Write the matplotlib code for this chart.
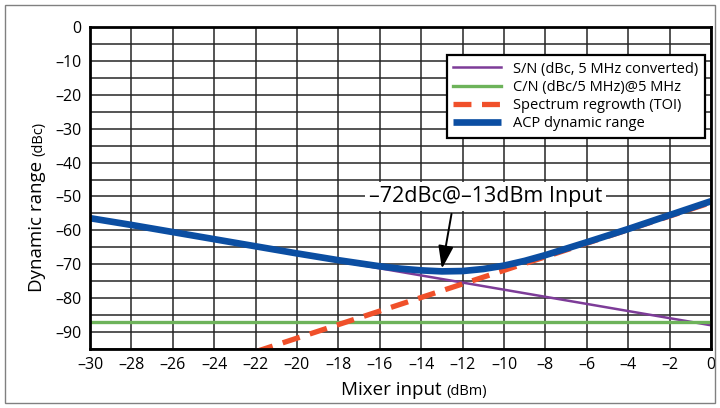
import matplotlib
matplotlib.use("Agg")
import matplotlib.pyplot as plt
from matplotlib.patches import Rectangle

plt.rcParams['font.family'] = ['Open Sans', 'DejaVu Sans']

# values
mixer_in = [-30, -28, -26, -24, -22, -20, -18, -16, -14, -12, -10, -8, -6, -4, -2, 0]
sn_vals = [-56.5, -58.6, -60.7, -62.8, -64.9, -67.0, -69.1, -71.2, -73.3, -75.4,
           -77.5, -79.6, -81.7, -83.8, -85.9, -88.0]
cn_x = [-30, 0]
cn_vals = [-87, -87]
toi_x = [-22, -20, -18, -16, -14, -12, -10, -8, -6, -4, -2, 0]
toi_vals = [-95.8, -91.8, -87.8, -83.8, -79.8, -75.8, -71.8, -67.8, -63.8, -59.8, -55.8, -51.8]
acp_x = [-30, -28, -26, -24, -22, -20, -18, -16, -15, -14, -13, -12, -11, -10, -9, -8,
         -6, -4, -2, 0]
acp_vals = [-56.4, -58.4, -60.5, -62.6, -64.7, -66.8, -68.8, -70.6, -71.3, -71.8, -72.1,
            -72.0, -71.4, -70.4, -69.0, -67.3, -63.5, -59.6, -55.5, -51.4]
x_ticks = list(range(-30, 1, 2))
y_ticks = list(range(0, -91, -10))
y_grid = list(range(0, -96, -5))

W, H = 720, 408
fig = plt.figure(figsize=(7.2, 4.08), dpi=100)
ax = fig.add_axes([90 / W, 1 - 349 / H, 621 / W, 322 / H])

ax.set_xlim(-30, 0)
ax.set_ylim(-95, 0)
ax.set_xticks(x_ticks)
ax.set_xticklabels([str(v).replace('-', '\u2013') for v in x_ticks])
ax.set_yticks(y_ticks)
ax.set_yticklabels([str(v).replace('-', '\u2013') for v in y_ticks])
ax.set_yticks(y_grid, minor=True)
ax.tick_params(which='both', length=0, labelsize=11.5)
ax.tick_params(axis='y', pad=6)
ax.tick_params(axis='x', pad=6)
ax.grid(which='both', color='#262626', lw=1.1)
ax.set_axisbelow(True)
for s in ax.spines.values():
    s.set_linewidth(2)

ax.plot(mixer_in, sn_vals, color='#7D3C98', lw=1.8, label='S/N (dBc, 5 MHz converted)')
ax.plot(cn_x, cn_vals, color='#6DB35A', lw=2.4, label='C/N (dBc/5 MHz)@5 MHz')
ax.plot(toi_x, toi_vals, color='#F0502A', lw=3.8, dashes=(3.4, 2.0),
        label='Spectrum regrowth (TOI)')
ax.plot(acp_x, acp_vals, color='#0B4EA2', lw=4.8, label='ACP dynamic range',
        solid_capstyle='butt')

leg = ax.legend(loc='upper right', bbox_to_anchor=(0.99, 0.913), fontsize=10.5,
                fancybox=False, edgecolor='black', framealpha=1, handlelength=3.3,
                borderaxespad=0, labelspacing=0.22, borderpad=0.45, handletextpad=0.8)
leg.get_frame().set_linewidth(1.6)

ax.annotate('\u201372dBc@\u201313dBm Input', xy=(-13, -71.3), xytext=(-10.9, -50),
            ha='center', va='center', fontsize=15.5, zorder=5,
            bbox=dict(fc='white', ec='none', pad=3),
            arrowprops=dict(arrowstyle='-|>,head_length=0.9,head_width=0.3',
                            color='black', lw=1.4, relpos=(0.36, 0), shrinkB=0))

# axis labels with a smaller unit part
fig.canvas.draw()
r = fig.canvas.get_renderer()
t1 = fig.text(341 / W, 1 - 395 / H, 'Mixer input', fontsize=13.5, ha='left', va='baseline')
bb = t1.get_window_extent(r)
fig.text((bb.x1 + 5) / W, 1 - 395 / H, '(dBm)', fontsize=10.5, ha='left', va='baseline')

t2 = fig.text(42 / W, 1 - 292 / H, 'Dynamic range', fontsize=13.5, rotation=90,
              rotation_mode='anchor', ha='left', va='baseline')
bb = t2.get_window_extent(r)
fig.text(42 / W, (bb.y1 + 5) / H, '(dBc)', fontsize=10.5, rotation=90,
         rotation_mode='anchor', ha='left', va='baseline')

fig.patches.append(Rectangle((5 / W, 5 / H), 710 / W, 398 / H, transform=fig.transFigure,
                             fill=False, ec='#808080', lw=1))

fig.savefig('out.png', dpi=100)
